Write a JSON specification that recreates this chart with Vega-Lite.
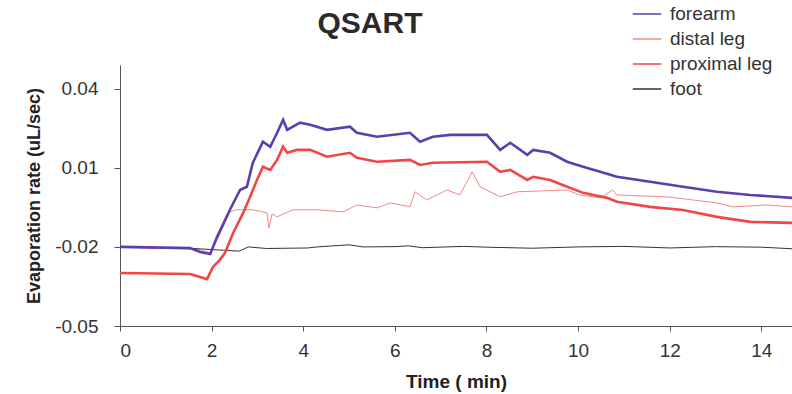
{
  "$schema": "https://vega.github.io/schema/vega-lite/v6.json",
  "width": 672,
  "height": 261,
  "autosize": {"type": "none"},
  "padding": {"left": 120, "top": 65, "right": 0, "bottom": 68},
  "background": "white",
  "config": {"view": {"stroke": null}, "font": "Liberation Sans"},
  "title": {"text": "QSART", "fontSize": 30, "fontWeight": "bold", "color": "#2a2a2a", "anchor": "middle", "frame": "group", "dx": -86, "offset": -40, "font": "Liberation Sans"},
  "data": {"values": [
    {"s":"forearm","t":0,"v":-0.0200},{"s":"forearm","t":1.53,"v":-0.0204},{"s":"forearm","t":1.75,"v":-0.0219},{"s":"forearm","t":1.97,"v":-0.0227},{"s":"forearm","t":2.12,"v":-0.0162},{"s":"forearm","t":2.40,"v":-0.0059},{"s":"forearm","t":2.62,"v":0.0016},{"s":"forearm","t":2.77,"v":0.0028},{"s":"forearm","t":2.90,"v":0.0119},{"s":"forearm","t":3.12,"v":0.0199},{"s":"forearm","t":3.28,"v":0.0180},{"s":"forearm","t":3.43,"v":0.0233},{"s":"forearm","t":3.56,"v":0.0282},{"s":"forearm","t":3.65,"v":0.0244},{"s":"forearm","t":3.93,"v":0.0271},{"s":"forearm","t":4.15,"v":0.0263},{"s":"forearm","t":4.52,"v":0.0244},{"s":"forearm","t":5.02,"v":0.0256},{"s":"forearm","t":5.17,"v":0.0233},{"s":"forearm","t":5.61,"v":0.0218},{"s":"forearm","t":6.33,"v":0.0233},{"s":"forearm","t":6.55,"v":0.0199},{"s":"forearm","t":6.83,"v":0.0218},{"s":"forearm","t":7.21,"v":0.0225},{"s":"forearm","t":8.01,"v":0.0225},{"s":"forearm","t":8.30,"v":0.0168},{"s":"forearm","t":8.52,"v":0.0195},{"s":"forearm","t":8.89,"v":0.0149},{"s":"forearm","t":9.02,"v":0.0168},{"s":"forearm","t":9.39,"v":0.0157},{"s":"forearm","t":9.76,"v":0.0123},{"s":"forearm","t":10.11,"v":0.0104},{"s":"forearm","t":10.85,"v":0.0066},{"s":"forearm","t":11.57,"v":0.0047},{"s":"forearm","t":12.29,"v":0.0028},{"s":"forearm","t":13.03,"v":0.0009},{"s":"forearm","t":13.76,"v":-0.0003},{"s":"forearm","t":14.67,"v":-0.0014},
    {"s":"distal leg","t":0,"v":-0.0200},{"s":"distal leg","t":1.75,"v":-0.0211},{"s":"distal leg","t":1.97,"v":-0.0223},{"s":"distal leg","t":2.12,"v":-0.0173},{"s":"distal leg","t":2.40,"v":-0.0067},{"s":"distal leg","t":2.55,"v":-0.0059},{"s":"distal leg","t":2.90,"v":-0.0059},{"s":"distal leg","t":3.21,"v":-0.0071},{"s":"distal leg","t":3.25,"v":-0.0128},{"s":"distal leg","t":3.32,"v":-0.0075},{"s":"distal leg","t":3.43,"v":-0.0086},{"s":"distal leg","t":3.78,"v":-0.0059},{"s":"distal leg","t":4.30,"v":-0.0059},{"s":"distal leg","t":4.87,"v":-0.0067},{"s":"distal leg","t":5.17,"v":-0.0041},{"s":"distal leg","t":5.61,"v":-0.0052},{"s":"distal leg","t":5.90,"v":-0.0033},{"s":"distal leg","t":6.33,"v":-0.0048},{"s":"distal leg","t":6.44,"v":0.0009},{"s":"distal leg","t":6.70,"v":-0.0022},{"s":"distal leg","t":7.14,"v":0.0016},{"s":"distal leg","t":7.42,"v":-0.0003},{"s":"distal leg","t":7.69,"v":0.0085},{"s":"distal leg","t":7.86,"v":0.0028},{"s":"distal leg","t":8.30,"v":-0.0010},{"s":"distal leg","t":8.67,"v":0.0009},{"s":"distal leg","t":9.76,"v":0.0016},{"s":"distal leg","t":10.04,"v":-0.0003},{"s":"distal leg","t":10.48,"v":-0.0014},{"s":"distal leg","t":10.76,"v":0.0016},{"s":"distal leg","t":10.85,"v":-0.0003},{"s":"distal leg","t":11.94,"v":-0.0010},{"s":"distal leg","t":13.03,"v":-0.0033},{"s":"distal leg","t":13.38,"v":-0.0048},{"s":"distal leg","t":14.13,"v":-0.0041},{"s":"distal leg","t":14.67,"v":-0.0048},
    {"s":"proximal leg","t":0,"v":-0.0299},{"s":"proximal leg","t":1.53,"v":-0.0303},{"s":"proximal leg","t":1.90,"v":-0.0322},{"s":"proximal leg","t":2.03,"v":-0.0276},{"s":"proximal leg","t":2.18,"v":-0.0249},{"s":"proximal leg","t":2.29,"v":-0.0223},{"s":"proximal leg","t":2.47,"v":-0.0147},{"s":"proximal leg","t":2.69,"v":-0.0071},{"s":"proximal leg","t":2.84,"v":-0.0010},{"s":"proximal leg","t":2.99,"v":0.0054},{"s":"proximal leg","t":3.12,"v":0.0104},{"s":"proximal leg","t":3.28,"v":0.0092},{"s":"proximal leg","t":3.43,"v":0.0130},{"s":"proximal leg","t":3.56,"v":0.0180},{"s":"proximal leg","t":3.65,"v":0.0157},{"s":"proximal leg","t":3.86,"v":0.0168},{"s":"proximal leg","t":4.15,"v":0.0168},{"s":"proximal leg","t":4.52,"v":0.0142},{"s":"proximal leg","t":5.02,"v":0.0157},{"s":"proximal leg","t":5.17,"v":0.0138},{"s":"proximal leg","t":5.61,"v":0.0123},{"s":"proximal leg","t":6.33,"v":0.0130},{"s":"proximal leg","t":6.55,"v":0.0111},{"s":"proximal leg","t":6.83,"v":0.0119},{"s":"proximal leg","t":8.01,"v":0.0123},{"s":"proximal leg","t":8.30,"v":0.0085},{"s":"proximal leg","t":8.52,"v":0.0092},{"s":"proximal leg","t":8.89,"v":0.0054},{"s":"proximal leg","t":9.02,"v":0.0066},{"s":"proximal leg","t":9.39,"v":0.0054},{"s":"proximal leg","t":9.76,"v":0.0028},{"s":"proximal leg","t":10.11,"v":0.0005},{"s":"proximal leg","t":10.63,"v":-0.0014},{"s":"proximal leg","t":10.85,"v":-0.0029},{"s":"proximal leg","t":11.57,"v":-0.0048},{"s":"proximal leg","t":12.29,"v":-0.0060},{"s":"proximal leg","t":13.03,"v":-0.0086},{"s":"proximal leg","t":13.76,"v":-0.0105},{"s":"proximal leg","t":14.67,"v":-0.0109},
    {"s":"foot","t":0,"v":-0.0202},{"s":"foot","t":1.5,"v":-0.0205},{"s":"foot","t":2.0,"v":-0.0210},{"s":"foot","t":2.6,"v":-0.0216},{"s":"foot","t":2.8,"v":-0.0200},{"s":"foot","t":3.2,"v":-0.0206},{"s":"foot","t":4.1,"v":-0.0204},{"s":"foot","t":4.3,"v":-0.0200},{"s":"foot","t":5.0,"v":-0.0192},{"s":"foot","t":5.3,"v":-0.0200},{"s":"foot","t":6.0,"v":-0.0199},{"s":"foot","t":6.3,"v":-0.0196},{"s":"foot","t":6.6,"v":-0.0203},{"s":"foot","t":7.5,"v":-0.0198},{"s":"foot","t":8.0,"v":-0.0201},{"s":"foot","t":9.0,"v":-0.0205},{"s":"foot","t":10.0,"v":-0.0200},{"s":"foot","t":11.0,"v":-0.0198},{"s":"foot","t":12.0,"v":-0.0204},{"s":"foot","t":13.0,"v":-0.0199},{"s":"foot","t":14.0,"v":-0.0201},{"s":"foot","t":14.67,"v":-0.0207}
  ]},
  "encoding": {
    "x": {"field": "t", "type": "quantitative", "scale": {"domain": [0, 14.67], "nice": false},
      "axis": {"title": "Time ( min)", "values": [0,2,4,6,8,10,12,14], "grid": false, "domainColor": "#555555", "tickColor": "#555555", "tickSize": 5, "labelFontSize": 19, "labelColor": "#333333", "labelPadding": 10, "titleFontSize": 19, "titleFontWeight": "bold", "titleColor": "#222222", "titlePadding": 12, "labelFont": "Liberation Sans", "titleFont": "Liberation Sans"}},
    "y": {"field": "v", "type": "quantitative", "scale": {"domain": [-0.05, 0.049], "nice": false, "zero": false},
      "axis": {"title": "Evaporation rate (uL/sec)", "values": [-0.05,-0.02,0.01,0.04], "labelExpr": "datum.value < 0 ? '-' + format(-datum.value, '.2f') : format(datum.value, '.2f')", "grid": false, "domainColor": "#555555", "tickColor": "#555555", "tickSize": 6, "labelFontSize": 19, "labelColor": "#333333", "labelPadding": 16, "titleFontSize": 18, "titleFontWeight": "bold", "titleColor": "#222222", "titlePadding": 11, "labelFont": "Liberation Sans", "titleFont": "Liberation Sans"}},
    "color": {"field": "s", "type": "nominal", "sort": ["forearm","distal leg","proximal leg","foot"],
      "scale": {"domain": ["forearm","distal leg","proximal leg","foot"], "range": ["#5b3fae","#ee8a8a","#f24545","#333333"]},
      "legend": {"title": null, "orient": "none", "legendX": 512, "legendY": -66, "symbolType": "stroke", "symbolSize": 810, "symbolStrokeWidth": 1.5, "labelFontSize": 19, "labelColor": "#333333", "labelFont": "Liberation Sans", "rowPadding": 0, "labelOffset": 8}}
  },
  "layer": [
    {"transform": [{"filter": "datum.s === 'foot' || datum.s === 'distal leg'"}], "mark": {"type": "line", "clip": true, "strokeWidth": 1}},
    {"transform": [{"filter": "datum.s === 'forearm' || datum.s === 'proximal leg'"}], "mark": {"type": "line", "clip": true, "strokeWidth": 2.6}}
  ]
}
